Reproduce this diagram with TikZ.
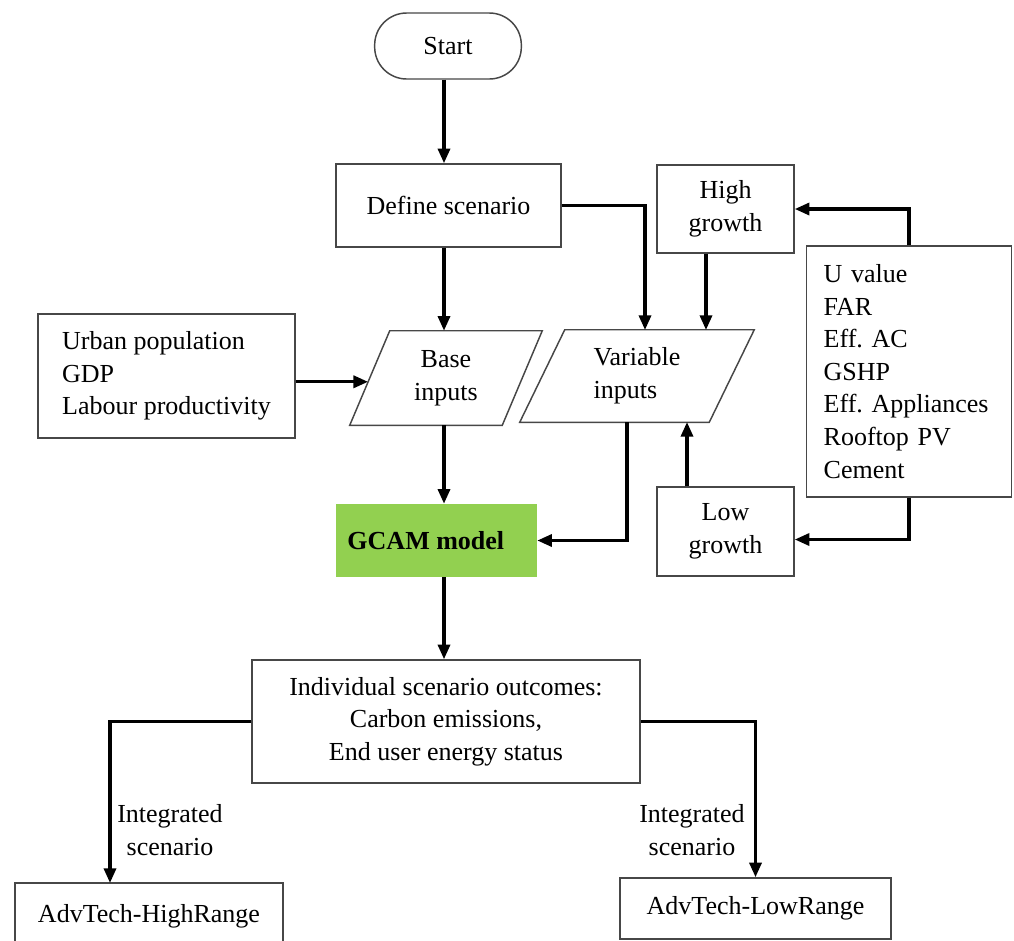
\documentclass[tikz,border=0pt]{standalone}
\usepackage{fontspec}
\setmainfont{Liberation Serif}
\usetikzlibrary{arrows.meta,positioning}
\definecolor{gcamgreen}{HTML}{92D050}
\definecolor{boxline}{HTML}{474747}
\frenchspacing

\begin{document}
\begin{tikzpicture}[x=0.75pt,y=-0.75pt,font=\fontsize{19.5}{24.4}\selectfont,
  box/.style={draw=boxline,line width=1.1pt,inner sep=0pt,align=center},
  arr/.style={line width=2.5pt,-{Triangle[length=11pt,width=9pt]}}]
\useasboundingbox (0,0) rectangle (1014,940);
% flow boxes
\node[box,rounded corners=24pt,minimum width=110pt,minimum height=49.5pt] (start) at (448,46) {Start};
\node[box,minimum width=168.75pt,minimum height=62.25pt] (define) at (448.5,205.5) {Define scenario};
\node[box,align=left,minimum width=192.75pt,minimum height=93pt] (urban) at (166.5,376) {Urban population\\GDP\\Labour productivity};
\node[inner sep=0pt,align=center,minimum width=144pt,minimum height=70.5pt] (base) at (446,378) {Base\\inputs};
\node[inner sep=0pt,align=left,minimum width=175.5pt,minimum height=69pt] (var) at (637,376) {Variable\\inputs};
\node[box,minimum width=102.75pt,minimum height=66pt] (high) at (725.5,209) {High\\growth};
\node[box,minimum width=102.75pt,minimum height=66.75pt] (low) at (725.5,531.5) {Low\\growth};
\node[box,align=left,text width=128pt,inner xsep=13pt,minimum height=188.25pt] (params) at (909,371.5) {U value\\FAR\\Eff. AC\\GSHP\\Eff. Appliances\\Rooftop PV\\Cement};
\node[fill=gcamgreen,inner sep=0pt,minimum width=150.75pt,minimum height=54.75pt,font=\fontsize{19.5}{24.4}\selectfont\bfseries] (gcam) at (436.5,540.5) {GCAM model\hspace*{16pt}};
\node[box,minimum width=291pt,minimum height=92.25pt] (outcomes) at (446,721.5) {Individual scenario outcomes:\\Carbon emissions,\\End user energy status};
\node[box,minimum width=201pt,minimum height=49.5pt] (highrange) at (149,916) {AdvTech-HighRange};
\node[box,minimum width=203.25pt,minimum height=45.75pt] (lowrange) at (755.5,908.5) {AdvTech-LowRange};
\node[align=center] (intA) at (170,830) {Integrated\\scenario};
\node[align=center] (intB) at (692,830) {Integrated\\scenario};
% parallelograms
\draw[boxline,line width=1.1pt] ([xshift=30pt]base.north west) -- (base.north east) -- ([xshift=-30pt]base.south east) -- (base.south west) -- cycle;
\draw[boxline,line width=1.1pt] ([xshift=33.75pt]var.north west) -- (var.north east) -- ([xshift=-33.75pt]var.south east) -- (var.south west) -- cycle;
\path ([xshift=30pt]base.north west) -- (base.south west) coordinate[pos=0.54] (basein);
% connector ends
\coordinate (spine) at (444,0);
\coordinate (varinA) at (645,330);
\coordinate (varinB) at (706,330);
\coordinate (varoutA) at (627,422);
\coordinate (varoutB) at (687,422);
\coordinate (hrin) at (110,883);
% arrows
\foreach \a/\b in {start/define,define/base,base/gcam,gcam/outcomes}
  \draw[arr] (\a.south -| spine) -- (\b.north -| spine);
\draw[arr] (urban.east |- basein) -- (basein);
\draw[arr] (define.east) -| (varinA);
\draw[arr] (high.south -| varinB) -- (varinB);
\draw[arr] (params.north) |- (high.east);
\draw[arr] (params.south) |- ([yshift=-6pt]low.east);
\draw[arr] (low.north -| varoutB) -- (varoutB);
\draw[arr] (varoutA) |- (gcam.east);
\draw[arr] (outcomes.west) -| (hrin);
\draw[arr] (outcomes.east) -| (lowrange.north);
\end{tikzpicture}
\end{document}
